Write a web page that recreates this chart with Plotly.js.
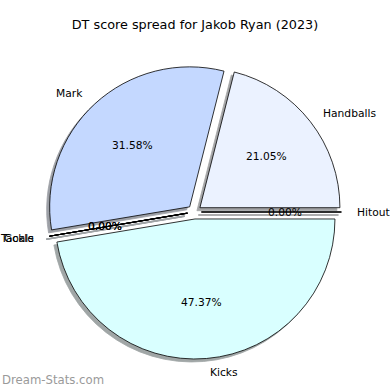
<!DOCTYPE html>
<html>
<head>
<meta charset="utf-8">
<script src="https://cdn.plot.ly/plotly-3.0.1.min.js"></script>
<style>html,body{margin:0;padding:0;background:#fff;}#chart{width:390px;height:390px;}</style>
</head>
<body>
<div id="chart"></div>
<script>
// ---- data ----
const labels = ['Handballs', 'Mark', 'Tackle', 'Goals', 'Kicks', 'Hitout'];
const values = [4, 6, 0, 0, 9, 0];
const sliceColors = ['#ebf2ff', '#c4d8ff', '#e0e0ff', '#d0f0ff', '#d9ffff', '#f0f0ff'];
const pulls = [0.05, 0.05, 0.05, 0.05, 0.05, 0.05];
const titleText = 'DT score spread for Jakob Ryan (2023)';
const watermark = 'Dream-Stats.com';

// ---- geometry (pixels) ----
const W = 390, H = 390;
const cx = 194.4, cy = 212, r = 140;
const maxPull = Math.max(...pulls);
const half = r * (1 + maxPull);
const shadowOff = 3;

function dom(dx, dy) {
  return {
    x: [(cx - half + dx) / W, (cx + half + dx) / W],
    y: [1 - (cy + half + dy) / H, 1 - (cy - half + dy) / H]
  };
}

function shade(hex) {
  const n = parseInt(hex.slice(1), 16);
  const c = [(n >> 16) & 255, (n >> 8) & 255, n & 255].map(v => Math.round(0.3 * v * 0.5 + 255 * 0.5));
  return 'rgb(' + c.join(',') + ')';
}

const font = 'DejaVu Sans, sans-serif';
const total = values.reduce((a, b) => a + b, 0);
// first slice starts at 3 o'clock and runs counterclockwise
const rot = 90 - 360 * values[0] / total;

const shadowTrace = {
  type: 'pie', labels: labels, values: values, sort: false,
  direction: 'counterclockwise', rotation: rot, pull: pulls,
  marker: {colors: sliceColors.map(shade), line: {color: sliceColors.map(shade), width: 0.8}},
  textinfo: 'none', hoverinfo: 'skip', domain: dom(-shadowOff, shadowOff), showlegend: false
};
const mainTrace = {
  type: 'pie', labels: labels, values: values, sort: false,
  direction: 'counterclockwise', rotation: rot, pull: pulls,
  marker: {colors: sliceColors, line: {color: '#000000', width: 0.8}},
  textinfo: 'none', hoverinfo: 'skip', domain: dom(0, 0), showlegend: false
};

const annotations = [];
const shapes = [];
let cum = 0;
values.forEach((v, i) => {
  const mid = 2 * Math.PI * (cum + v / 2) / total;
  cum += v;
  const c = Math.cos(mid), s = Math.sin(mid);
  const ex = pulls[i] * r;
  const lx = cx + (ex + 1.1 * r) * c, ly = cy - (ex + 1.1 * r) * s;
  const px = cx + (ex + 0.6 * r) * c, py = cy - (ex + 0.6 * r) * s;
  annotations.push({
    text: labels[i], xref: 'paper', yref: 'paper', x: lx / W, y: 1 - ly / H,
    xanchor: c > 0 ? 'left' : 'right', yanchor: 'middle', showarrow: false,
    font: {family: font, size: 10.7, color: '#000'}
  });
  annotations.push({
    text: (v / total * 100).toFixed(2) + '%', xref: 'paper', yref: 'paper', x: px / W, y: 1 - py / H,
    xanchor: 'center', yanchor: 'middle', showarrow: false,
    font: {family: font, size: 10.7, color: '#000'}
  });
  if (v === 0) {
    // zero-width wedge: drawn as its edge line (plus its shadow)
    const x0 = cx + ex * c, y0 = cy - ex * s;
    const x1 = cx + (ex + r) * c, y1 = cy - (ex + r) * s;
    shapes.push({type: 'line', xref: 'paper', yref: 'paper', layer: 'above',
      x0: (x0 - shadowOff) / W, y0: 1 - (y0 + shadowOff) / H, x1: (x1 - shadowOff) / W, y1: 1 - (y1 + shadowOff) / H,
      line: {color: shade(sliceColors[i]), width: 1.6}});
    shapes.push({type: 'line', xref: 'paper', yref: 'paper', layer: 'above',
      x0: x0 / W, y0: 1 - y0 / H, x1: x1 / W, y1: 1 - y1 / H,
      line: {color: '#000', width: 1.1}});
  }
});
annotations.push({
  text: watermark, xref: 'paper', yref: 'paper', x: 0, y: 1 - 380 / H,
  xanchor: 'left', yanchor: 'middle', showarrow: false,
  font: {family: font, size: 11.7, color: '#9a9a9a'}
});

const layout = {
  width: W, height: H,
  margin: {l: 0, r: 0, t: 0, b: 0},
  paper_bgcolor: '#ffffff',
  showlegend: false,
  hovermode: false,
  title: {text: titleText, x: 0.5, xanchor: 'center', y: 1 - 25 / H, yanchor: 'middle',
          font: {family: font, size: 12.8, color: '#000'}},
  annotations: annotations,
  shapes: shapes
};

Plotly.newPlot('chart', [shadowTrace, mainTrace], layout, {staticPlot: true, displayModeBar: false});
</script>
</body>
</html>
